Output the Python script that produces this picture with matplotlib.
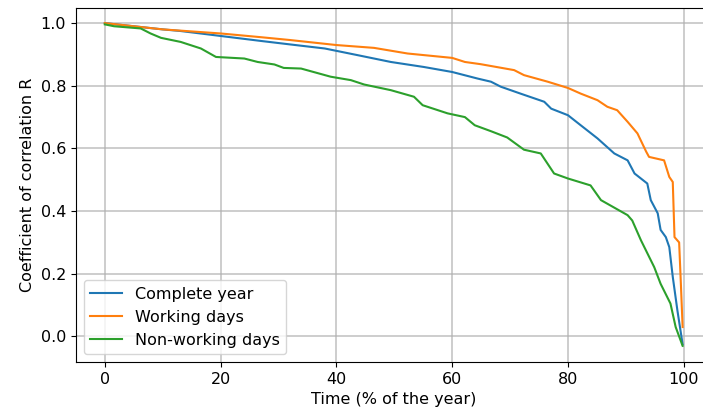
import numpy as np
import matplotlib
matplotlib.use("Agg")
import matplotlib.pyplot as plt

# values
x_all = [0, 5, 10, 13, 20, 27, 32, 38, 43.6, 49.4, 55.1, 60, 64.4, 66.7, 68.4,
         71.8, 75.9, 77.1, 80, 82.2, 85.1, 88, 90.3, 91.5, 93.7, 94.3, 95.5,
         96, 96.9, 97.5, 98.1, 98.9, 99.8]
r_all = [1.0, 0.99, 0.98, 0.975, 0.959, 0.943, 0.932, 0.919, 0.898, 0.876,
         0.86, 0.844, 0.823, 0.813, 0.797, 0.775, 0.749, 0.727, 0.706, 0.674,
         0.632, 0.584, 0.562, 0.52, 0.488, 0.435, 0.393, 0.34, 0.317, 0.285,
         0.19, 0.083, -0.025]

x_work = [0, 5, 10, 20, 27, 32, 40, 46.5, 52.3, 60, 62.2, 64.9, 70.7, 72.4,
          76.5, 80, 82.2, 85.1, 86.8, 88.5, 90.3, 92, 93.5, 94, 96.6, 97.5,
          98.1, 98.4, 99.2, 99.5, 99.8]
r_work = [1.0, 0.99, 0.98, 0.967, 0.955, 0.946, 0.93, 0.921, 0.903, 0.889,
          0.876, 0.869, 0.85, 0.834, 0.813, 0.793, 0.775, 0.754, 0.733, 0.722,
          0.685, 0.648, 0.59, 0.573, 0.562, 0.509, 0.493, 0.317, 0.30, 0.168,
          0.03]

x_nonwork = [0, 1.6, 6.2, 7.9, 9.7, 13.1, 16.6, 19.2, 24.1, 26.4, 29.3, 30.9,
             33.9, 39, 42.5, 44.8, 49.4, 53.4, 54.9, 59.2, 62.2, 63.9, 66.7,
             69.5, 72.4, 75.3, 77.6, 80, 83.9, 85.7, 90.3, 91.1, 92.6, 94.9,
             96, 97.7, 98.6, 99.8]
r_nonwork = [0.996, 0.99, 0.983, 0.967, 0.953, 0.94, 0.919, 0.892, 0.887,
             0.876, 0.868, 0.857, 0.855, 0.829, 0.818, 0.804, 0.786, 0.765,
             0.738, 0.712, 0.70, 0.674, 0.655, 0.635, 0.596, 0.584, 0.52,
             0.504, 0.482, 0.435, 0.387, 0.37, 0.307, 0.221, 0.168, 0.105,
             0.03, -0.03]

plt.rcParams['font.size'] = 11.5

fig = plt.figure(figsize=(7.03, 4.17), dpi=100)
# right spine falls just outside the picture, as in the reference
ax = fig.add_axes([0.108, 0.132, 0.905, 0.849])

ax.plot(x_all, r_all, label="Complete year")
ax.plot(x_work, r_work, label="Working days")
ax.plot(x_nonwork, r_nonwork, label="Non-working days")

ax.set_xticks(np.arange(0, 101, 20))
ax.set_yticks(np.arange(0, 1.01, 0.2))
ax.set_xlim(-4.99, 104.9)
ax.set_ylim(-0.0815, 1.0485)
ax.grid(True, color="#b0b0b0", linewidth=1.1, alpha=0.8)
ax.set_xlabel("Time (% of the year)")
ax.set_ylabel("Coefficient of correlation R")
ax.legend(loc="lower left")

fig.savefig("out.png", dpi=100)
